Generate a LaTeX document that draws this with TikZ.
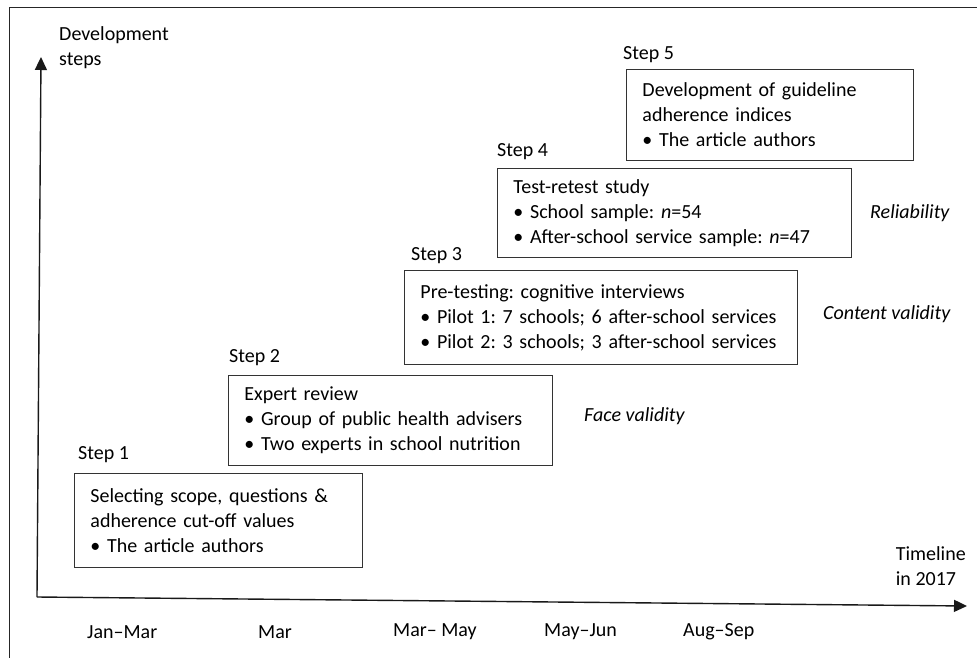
\documentclass[tikz,border=0pt]{standalone}
\usepackage{fontspec}
\setmainfont{Carlito}
\frenchspacing
\usetikzlibrary{arrows.meta,positioning}

\tikzset{
  stepbox/.style={draw=black!80, line width=0.9pt, anchor=north west, align=left, inner xsep=16pt, inner ysep=0pt},
  steplabel/.style={anchor=west, inner sep=0pt},
  validity/.style={anchor=west, inner sep=0pt, font=\fontsize{20}{25}\selectfont\itshape},
  month/.style={anchor=west, inner sep=0pt},
  axis/.style={line width=1.4pt, black!90, -{Triangle[length=13pt,width=12pt]}},
}

\begin{document}
\begin{tikzpicture}[x=1pt,y=-1pt,font=\fontsize{20}{25}\selectfont]
\useasboundingbox (0,0) rectangle (977,658);
% outer frame
\draw[line width=1.2pt,black!85] (9.5,658) -- (9.5,7.5) -- (977,7.5);

% axes
\coordinate (origin) at (37,597);
\coordinate (ytip) at (41,57);
\coordinate (xtip) at (967,606);
\draw[axis] (origin) -- (ytip);
\draw[axis] (origin) -- (xtip);
\node[anchor=west, align=left, inner sep=0pt] (ylab) at (59,47.5) {Development\\steps};
\node[anchor=east, align=left, inner sep=0pt] (xlab) at (966,566) {Timeline\\in 2017};

% steps
\node[stepbox, text width=256pt, minimum height=94pt] (s1) at (74,473)
  {Selecting scope, questions \&\\adherence cut-off values\\\textbullet\ The article authors};
\node[stepbox, text width=292pt, minimum height=90pt] (s2) at (228,375)
  {Expert review\\\textbullet\ Group of public health advisers\\\textbullet\ Two experts in school nutrition};
\node[stepbox, text width=361pt, minimum height=94pt] (s3) at (404,270)
  {Pre-testing: cognitive interviews\\\textbullet\ Pilot 1: 7 schools; 6 after-school services\\\textbullet\ Pilot 2: 3 schools; 3 after-school services};
\node[stepbox, text width=322pt, minimum height=89pt] (s4) at (497,168)
  {Test-retest study\\\textbullet\ School sample: \textit{n}=54\\\textbullet\ After-school service sample: \textit{n}=47};
\node[stepbox, text width=255pt, minimum height=91pt] (s5) at (626,69)
  {Development of guideline\\adherence indices\\\textbullet\ The article authors};

\node[steplabel] (l1) at (78,455) {Step 1};
\node[steplabel] (l2) at (229,358) {Step 2};
\node[steplabel] (l3) at (411,256) {Step 3};
\node[steplabel] (l4) at (497,152) {Step 4};
\node[steplabel] (l5) at (623,55) {Step 5};

% validity
\node[validity] (v2) at (584,416) {Face validity};
\node[validity] (v3) at (823,314) {Content validity};
\node[validity] (v4) at (870,213) {Reliability};

% timeline
\node[month] (m1) at (87,632) {Jan--Mar};
\node[month] (m2) at (258,632) {Mar};
\node[month] (m3) at (393,632) {Mar-- May};
\node[month] (m4) at (544,632) {May--Jun};
\node[month] (m5) at (683,632) {Aug--Sep};
\end{tikzpicture}
\end{document}
